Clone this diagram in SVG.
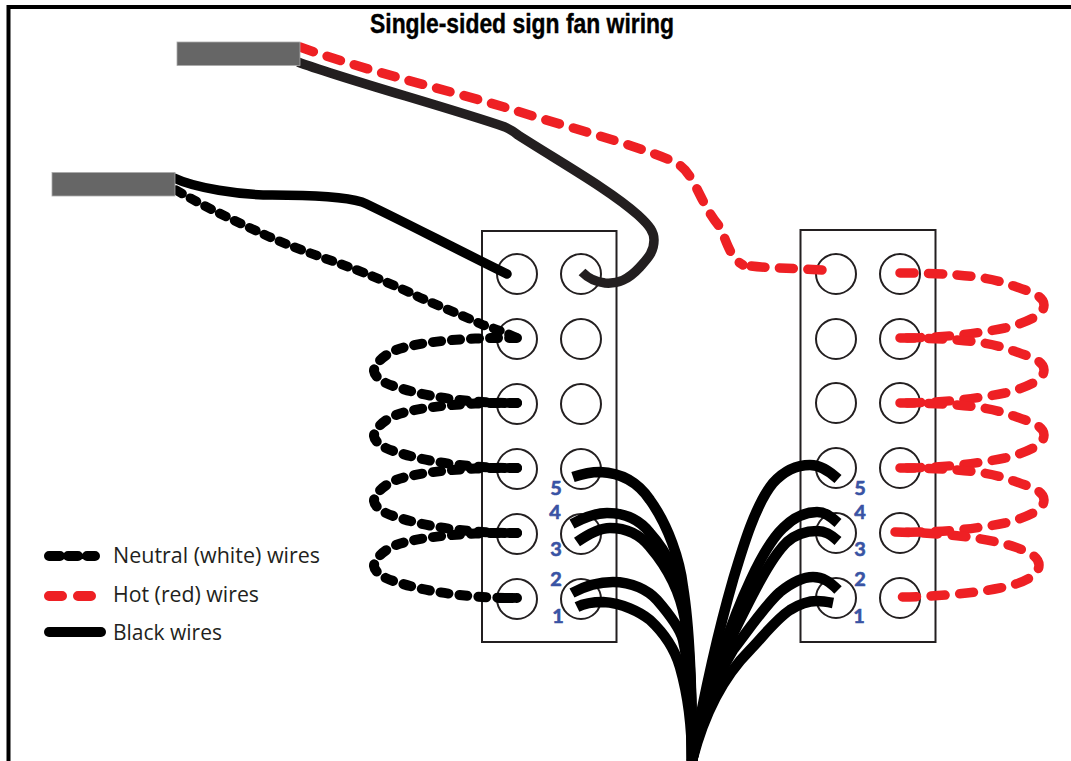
<svg xmlns="http://www.w3.org/2000/svg" width="1071" height="761" viewBox="0 0 1071 761">
<style>
.block{fill:#fff;stroke:#231f20;stroke-width:2}
.term{fill:#fff;stroke:#231f20;stroke-width:2}
.cable{fill:#666;stroke:#aaa;stroke-width:.8}
.w{fill:none;stroke-linejoin:round}
.black{stroke:#000;stroke-width:9.500}
.fan{stroke:#000;stroke-width:10.500}
.neutral{stroke:#000;stroke-width:10;stroke-linecap:round;stroke-dasharray:8 11}
.neutral2{stroke:#000;stroke-width:9.500;stroke-linecap:round;stroke-dasharray:7 9.500}
.hot{stroke:#ee2024;stroke-width:9.500;stroke-linecap:round;stroke-dasharray:14 14.500}
.num{font:700 19.900px Lato,sans-serif;fill:#3953a4;stroke:#3953a4;stroke-width:.6;text-anchor:middle}
.leg{font:400 21px "Open Sans",sans-serif;fill:#231f20}
</style>
<defs>
<path id="nloop" class="w neutral" d="M517 338C470 337 405 342 388 354C379 360 374 366 374 371C375 378 385 384 397 387C420 395 460 403 517 403"/>
<path id="hloop" class="w hot" d="M900 273C940 273 980 275 1005 283C1028 291 1044 295 1044 305C1044 315 1028 322 1005 328C975 334 940 338 900 338"/>
</defs>
<g id="frame"><path d="M8.500 761V7H1071" fill="none" stroke="#000" stroke-width="4"/></g>
<text id="title" x="370" y="33" textLength="304" lengthAdjust="spacingAndGlyphs" stroke="#000" stroke-width=".4" style="font:700 27px 'Liberation Sans Narrow','Liberation Sans',sans-serif;fill:#000">Single-sided sign fan wiring</text>
<g id="block-left">
<rect class="block" x="482" y="231" width="134.500" height="411"/>
<circle class="term" cx="517" cy="274" r="20"/><circle class="term" cx="581" cy="274" r="20"/>
<circle class="term" cx="517" cy="339" r="20"/><circle class="term" cx="581" cy="339" r="20"/>
<circle class="term" cx="517" cy="404" r="20"/><circle class="term" cx="581" cy="404" r="20"/>
<circle class="term" cx="517" cy="469" r="20"/><circle class="term" cx="581" cy="469" r="20"/>
<circle class="term" cx="517" cy="534" r="20"/><circle class="term" cx="581" cy="534" r="20"/>
<circle class="term" cx="517" cy="599" r="20"/><circle class="term" cx="581" cy="599" r="20"/>
</g>
<g id="block-right">
<rect class="block" x="800.500" y="230" width="135" height="412"/>
<circle class="term" cx="836" cy="274" r="20"/><circle class="term" cx="900" cy="274" r="20"/>
<circle class="term" cx="836" cy="339" r="20"/><circle class="term" cx="900" cy="339" r="20"/>
<circle class="term" cx="836" cy="403" r="20"/><circle class="term" cx="900" cy="403" r="20"/>
<circle class="term" cx="836" cy="468" r="20"/><circle class="term" cx="900" cy="468" r="20"/>
<circle class="term" cx="836" cy="533" r="20"/><circle class="term" cx="900" cy="533" r="20"/>
<circle class="term" cx="836" cy="598" r="20"/><circle class="term" cx="900" cy="598" r="20"/>
</g>
<g id="connectors">
<path class="w hot" d="M300 47C370 72 440 88 504 107C560 125 630 143 670 160C685 166 690 175 699 193C706 207 712 218 720 227C726 240 730 258 743 265"/>
<path class="w hot" stroke-dasharray="14 14" d="M822 270C790 268 760 268 745 265"/>
<path class="w black" style="stroke:#231f20" d="M298 62C340 78 450 108 505 127Q512 130 518 135C560 162 610 190 638 215C650 226 654 232 654 240C654 252 648 258 640 267C628 280 618 284 605 283C595 282 588 278 582 272"/>
<path class="w black" stroke-linecap="round" d="M174 178C195 188 240 195 272 195C310 195 345 197 362 202C385 212 450 246 507 274"/>
<path class="w neutral2" d="M176 190C205 207 235 221 261 233C290 247 325 258 357 270C380 279 395 286 411 293C430 303 460 314 483 325Q503 331 517 338"/>
<use href="#nloop"/>
<use href="#nloop" y="65"/>
<use href="#nloop" y="130"/>
<use href="#nloop" y="195"/>
<use href="#hloop"/>
<use href="#hloop" y="65"/>
<use href="#hloop" y="130"/>
<path class="w" stroke="#000" stroke-width="10" stroke-linecap="round" d="M500 598H513"/>
<path class="w hot" d="M900 468C940 468 980 470 1005 478C1028 486 1044 490 1044 500C1044 510 1028 517 1005 523C975 529 940 533 895 532"/>
<path class="w hot" d="M895 532C940 533 985 537 1015 547C1032 553 1039 558 1039 565C1039 575 1025 583 1000 588C970 594 930 597 895 597"/>
<path class="w fan" d="M573 477C585 473 592 472 600 472C625 473 640 485 650 500C668 525 680 560 683 587C690 630 692 700 692 761"/>
<path class="w fan" d="M572 524C585 517 597 513 607 513C625 513 640 520 650 533C668 553 680 580 683 600C690 640 692 700 692 761"/>
<path class="w fan" d="M577 542C590 533 600 528 610 528C630 528 642 537 650 547C668 568 680 590 685 620C690 655 692 710 692 761"/>
<path class="w fan" d="M572 593C585 586 600 582 613 582C632 582 648 590 657 600C670 615 680 628 683 640C690 670 692 715 692 761"/>
<path class="w fan" d="M577 607C585 603 595 602 603 602C622 603 640 612 650 620C665 634 675 650 680 667C688 695 692 725 692 761"/>
<path class="w fan" d="M838 479C828 470 820 465 810 465C795 465 783 472 773 483C755 505 742 550 733 580C720 625 705 690 692 761"/>
<path class="w fan" d="M838 523C830 516 825 512 817 512C805 512 793 518 783 528C762 548 738 605 723 650C712 680 700 720 692 761"/>
<path class="w fan" d="M838 541C830 534 825 531 817 531C805 531 795 535 787 542C768 560 745 610 730 640C716 670 702 715 692 761"/>
<path class="w fan" d="M838 590C830 582 823 577 813 577C802 577 790 584 780 592C765 605 745 635 733 650C715 680 700 720 692 761"/>
<path class="w fan" d="M833 603C828 602 823 601 817 601C808 601 798 605 790 610C775 620 762 638 750 650C725 675 705 710 692 761"/>
</g>
<g id="numbers-left">
<text class="num" x="556" y="495">5</text><text class="num" x="555" y="519">4</text><text class="num" x="556" y="556">3</text><text class="num" x="556" y="586">2</text><text class="num" x="558" y="623">1</text>
</g>
<g id="numbers-right">
<text class="num" x="860" y="495">5</text><text class="num" x="860" y="519">4</text><text class="num" x="860" y="556">3</text><text class="num" x="860" y="586">2</text><text class="num" x="859" y="623">1</text>
</g>
<g id="cable-top"><rect class="cable" x="177" y="42" width="123" height="23.500"/></g>
<g id="cable-left"><rect class="cable" x="52" y="172.500" width="123" height="23.500"/></g>
<g id="legend">
<path class="w" stroke="#000" stroke-width="10" stroke-linecap="round" d="M49 556H60M68 556H78M87 556H95"/>
<path class="w" stroke="#ee2024" stroke-width="10" stroke-linecap="round" d="M49 596H62M78 596H91"/>
<path class="w" stroke="#000" stroke-width="10" stroke-linecap="round" d="M49 632H101"/>
<text class="leg" x="113" y="563" textLength="207" lengthAdjust="spacingAndGlyphs">Neutral (white) wires</text>
<text class="leg" x="113" y="602" textLength="146" lengthAdjust="spacingAndGlyphs">Hot (red) wires</text>
<text class="leg" x="113" y="640" textLength="109" lengthAdjust="spacingAndGlyphs">Black wires</text>
</g>
</svg>
